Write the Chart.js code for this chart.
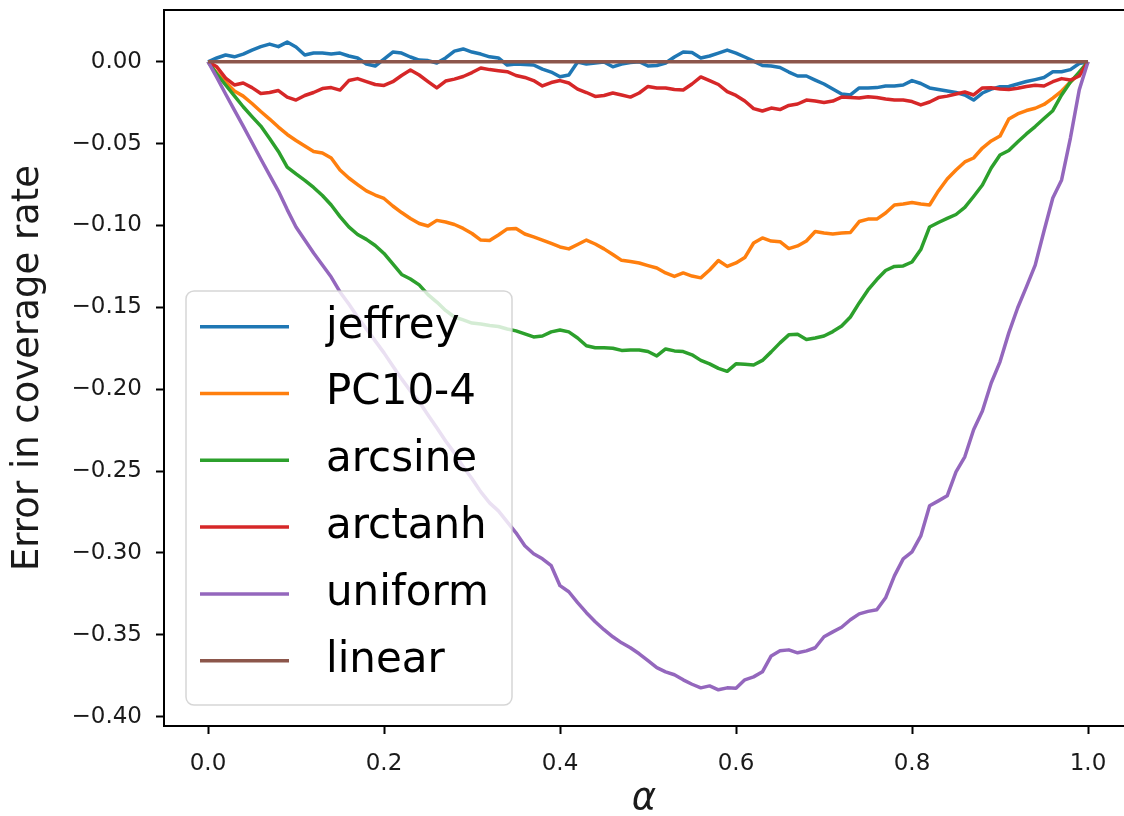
<!DOCTYPE html>
<html><head><meta charset="utf-8">
<script src="https://cdn.jsdelivr.net/npm/chart.js@4"></script>
<style>html,body{margin:0;padding:0;background:#fff;overflow:hidden}canvas{display:block}</style>
</head><body>
<canvas id="c" width="1124" height="816"></canvas>
<script>
const alpha = [0,0.01,0.02,0.03,0.04,0.05,0.06,0.07,0.08,0.09,
0.10,0.11,0.12,0.13,0.14,0.15,0.16,0.17,0.18,0.19,
0.20,0.21,0.22,0.23,0.24,0.25,0.26,0.27,0.28,0.29,
0.30,0.31,0.32,0.33,0.34,0.35,0.36,0.37,0.38,0.39,
0.40,0.41,0.42,0.43,0.44,0.45,0.46,0.47,0.48,0.49,
0.50,0.51,0.52,0.53,0.54,0.55,0.56,0.57,0.58,0.59,
0.60,0.61,0.62,0.63,0.64,0.65,0.66,0.67,0.68,0.69,
0.70,0.71,0.72,0.73,0.74,0.75,0.76,0.77,0.78,0.79,
0.80,0.81,0.82,0.83,0.84,0.85,0.86,0.87,0.88,0.89,
0.90,0.91,0.92,0.93,0.94,0.95,0.96,0.97,0.98,0.99,
1.00];
const jeffrey = [0,0.0023,0.0041,0.003,0.0047,0.0071,0.0092,0.0108,0.0092,0.012,
0.009,0.0041,0.0053,0.0053,0.0047,0.0053,0.0035,0.0023,-0.0014,-0.0026,
0.0016,0.0059,0.0053,0.0029,0.001,0.0007,-0.0008,0.0023,0.0065,0.0078,
0.0059,0.0047,0.003,0.0023,-0.002,-0.0014,-0.0017,-0.002,-0.0045,-0.0063,
-0.0092,-0.0081,-0.0002,-0.0014,-0.0008,-0.0002,-0.0031,-0.0014,-0.0005,0,
-0.0026,-0.0023,-0.0008,0.0029,0.0059,0.0056,0.0023,0.0035,0.0053,0.0071,
0.0053,0.0029,0.0004,-0.0023,-0.0026,-0.0035,-0.0063,-0.0087,-0.0087,-0.0112,
-0.0136,-0.0167,-0.0197,-0.0203,-0.016,-0.016,-0.0158,-0.0148,-0.0148,-0.0142,
-0.0115,-0.0133,-0.016,-0.017,-0.0179,-0.0188,-0.0203,-0.0234,-0.0191,-0.0167,
-0.0153,-0.0151,-0.0136,-0.0121,-0.0109,-0.0096,-0.0061,-0.0061,-0.0048,-0.0011,
0];
const pc104 = [0,-0.0069,-0.0124,-0.0179,-0.021,-0.0255,-0.0304,-0.035,-0.0399,-0.0444,
-0.0481,-0.0515,-0.0548,-0.0557,-0.0588,-0.0661,-0.071,-0.075,-0.0789,-0.0814,
-0.0835,-0.0881,-0.0921,-0.0957,-0.0988,-0.1003,-0.0969,-0.0979,-0.0994,-0.1018,
-0.1049,-0.1089,-0.1092,-0.1058,-0.1021,-0.1018,-0.1052,-0.107,-0.1089,-0.111,
-0.1131,-0.1143,-0.1116,-0.1089,-0.1113,-0.1143,-0.1177,-0.1213,-0.122,-0.1229,
-0.1245,-0.126,-0.129,-0.1311,-0.129,-0.1309,-0.132,-0.1272,-0.1214,-0.125,
-0.1229,-0.1196,-0.1107,-0.1076,-0.1095,-0.1099,-0.1141,-0.1125,-0.1095,-0.1037,
-0.1046,-0.1052,-0.1046,-0.1043,-0.0976,-0.0961,-0.0961,-0.0924,-0.0875,-0.0869,
-0.086,-0.0869,-0.0875,-0.0789,-0.0716,-0.0661,-0.0612,-0.0588,-0.0527,-0.0484,
-0.0454,-0.035,-0.0319,-0.0298,-0.0284,-0.0261,-0.0222,-0.0179,-0.0124,-0.0075,
0];
const arcsine = [0,-0.0075,-0.0142,-0.0209,-0.0275,-0.0335,-0.0393,-0.0469,-0.0548,-0.0643,
-0.0685,-0.0725,-0.0768,-0.0817,-0.0875,-0.0946,-0.1009,-0.1055,-0.1085,-0.1122,
-0.1171,-0.1235,-0.1299,-0.1327,-0.1363,-0.1422,-0.1468,-0.1519,-0.1559,-0.1577,
-0.1596,-0.1602,-0.1611,-0.1617,-0.1632,-0.1644,-0.1662,-0.1681,-0.1675,-0.165,
-0.1638,-0.165,-0.1687,-0.1735,-0.1747,-0.1747,-0.175,-0.1763,-0.176,-0.176,
-0.177,-0.1797,-0.1754,-0.1766,-0.177,-0.179,-0.1824,-0.1845,-0.1873,-0.1891,
-0.1845,-0.1848,-0.1852,-0.1824,-0.1772,-0.1717,-0.1668,-0.1665,-0.1696,-0.1687,
-0.1675,-0.1648,-0.1614,-0.1559,-0.1473,-0.1394,-0.133,-0.1275,-0.125,-0.1247,
-0.1223,-0.1147,-0.1009,-0.0982,-0.0957,-0.0933,-0.089,-0.0823,-0.0753,-0.0649,
-0.057,-0.0542,-0.049,-0.0441,-0.0396,-0.0347,-0.0299,-0.0203,-0.0124,-0.0063,
0];
const arctanh = [0,-0.0031,-0.01,-0.0142,-0.013,-0.0158,-0.0194,-0.0188,-0.0176,-0.0216,
-0.0234,-0.0206,-0.0188,-0.0164,-0.0158,-0.0173,-0.0115,-0.0103,-0.0121,-0.0139,
-0.0145,-0.0122,-0.0084,-0.0051,-0.0081,-0.0121,-0.016,-0.0118,-0.0106,-0.009,
-0.0066,-0.0038,-0.0048,-0.0055,-0.0061,-0.0084,-0.0096,-0.0115,-0.0148,-0.0127,
-0.0115,-0.013,-0.0167,-0.0188,-0.0212,-0.0206,-0.0191,-0.0203,-0.0216,-0.0191,
-0.0151,-0.016,-0.016,-0.017,-0.0173,-0.0136,-0.0093,-0.0115,-0.0139,-0.0183,
-0.0206,-0.024,-0.0286,-0.0301,-0.0283,-0.0292,-0.0267,-0.0258,-0.0234,-0.024,
-0.0249,-0.024,-0.0216,-0.0219,-0.0222,-0.0214,-0.0219,-0.0228,-0.0234,-0.0234,
-0.0243,-0.0264,-0.0246,-0.0219,-0.021,-0.0197,-0.0185,-0.0203,-0.016,-0.0159,
-0.0167,-0.017,-0.0162,-0.0151,-0.0143,-0.0148,-0.0122,-0.0103,-0.0112,-0.0087,
0];
const uniform = [0,-0.0096,-0.0197,-0.0295,-0.0393,-0.0493,-0.0594,-0.0692,-0.079,-0.0903,
-0.1009,-0.1089,-0.1168,-0.1241,-0.1315,-0.1406,-0.148,-0.1559,-0.1632,-0.1705,
-0.1778,-0.1858,-0.1937,-0.2011,-0.2077,-0.2157,-0.2236,-0.2316,-0.2389,-0.2474,
-0.2547,-0.2627,-0.2694,-0.2743,-0.281,-0.2877,-0.2956,-0.3005,-0.3036,-0.3078,
-0.32,-0.3237,-0.3304,-0.3365,-0.342,-0.3469,-0.3512,-0.3549,-0.3579,-0.3616,
-0.3658,-0.3701,-0.3726,-0.3744,-0.3775,-0.3802,-0.3824,-0.3812,-0.3836,-0.3824,
-0.3827,-0.3775,-0.3757,-0.3726,-0.3629,-0.3598,-0.3592,-0.361,-0.3598,-0.3579,
-0.3512,-0.3482,-0.3454,-0.3408,-0.3372,-0.3357,-0.3347,-0.3274,-0.314,-0.3036,
-0.2993,-0.2896,-0.2712,-0.2682,-0.2651,-0.2505,-0.2413,-0.2248,-0.2133,-0.1962,
-0.1833,-0.1656,-0.1504,-0.1375,-0.1242,-0.1034,-0.0832,-0.0722,-0.0466,-0.0173,
0];
const linearAlpha = [0, 1];
const linear = [0, 0];

const seriesNames = ['jeffrey','PC10-4','arcsine','arctanh','uniform','linear'];
const seriesColors = ['#1f77b4','#ff7f0e','#2ca02c','#d62728','#9467bd','#8c564b'];
const xTicks = [0,0.2,0.4,0.6,0.8,1.0];
const yTicks = [0,-0.05,-0.10,-0.15,-0.20,-0.25,-0.30,-0.35,-0.40];
const xTitle = 'α';
const yTitle = 'Error in coverage rate';

const FONT = '"DejaVu Sans", sans-serif';
const seriesValues = [jeffrey, pc104, arcsine, arctanh, uniform, linear];
const seriesX = [alpha, alpha, alpha, alpha, alpha, linearAlpha];

const datasets = seriesValues.map((vals, i) => ({
  label: seriesNames[i],
  data: seriesX[i].map((a, j) => ({x: a, y: vals[j]})),
  borderColor: seriesColors[i],
  backgroundColor: seriesColors[i],
  borderWidth: 3.5,
  pointRadius: 0,
  tension: 0,
  fill: false,
  borderJoinStyle: 'round',
  order: seriesValues.length - i
}));

const fmtY = v => (Math.abs(v) < 1e-9 ? '0.00' : (v < 0 ? '\u2212' : '') + Math.abs(v).toFixed(2));

const framePlugin = {
  id: 'frame',
  afterDatasetsDraw(chart) {
    const ctx = chart.ctx;
    const bx = 186, by = 291, bw = 326, bh = 414, r = 8;
    ctx.save();
    ctx.beginPath();
    ctx.roundRect(bx, by, bw, bh, r);
    ctx.fillStyle = 'rgba(255,255,255,0.8)';
    ctx.fill();
    ctx.strokeStyle = 'rgba(204,204,204,0.8)';
    ctx.lineWidth = 1.5;
    ctx.stroke();
    chart.data.datasets.forEach((ds, i) => {
      const y = 326.7 + i * 66.8;
      ctx.beginPath();
      ctx.moveTo(200, y);
      ctx.lineTo(289, y);
      ctx.strokeStyle = ds.borderColor;
      ctx.lineWidth = 3.5;
      ctx.stroke();
      ctx.fillStyle = '#000';
      ctx.font = '42px ' + FONT;
      ctx.textAlign = 'left';
      ctx.textBaseline = 'middle';
      ctx.fillText(ds.label, 326, y);
    });
    ctx.restore();
  },
  afterDraw(chart) {
    const {ctx, chartArea} = chart;
    ctx.save();
    ctx.strokeStyle = '#000';
    ctx.lineWidth = 2;
    ctx.beginPath();
    ctx.moveTo(chartArea.left - 1, chartArea.top);
    ctx.lineTo(chartArea.right, chartArea.top);
    ctx.stroke();
    ctx.restore();
  }
};

new Chart(document.getElementById('c'), {
  type: 'line',
  data: { datasets },
  plugins: [framePlugin],
  options: {
    responsive: false,
    animation: false,
    events: [],
    devicePixelRatio: 1,
    layout: { padding: { top: 10, left: 0, right: 0, bottom: 0 } },
    plugins: { legend: { display: false }, tooltip: { enabled: false } },
    scales: {
      x: {
        type: 'linear',
        min: -0.05,
        max: 1.0409,
        afterFit(s) { s.height = 90; s.paddingLeft = 0; s.paddingRight = 0; s.paddingTop = 0; s.paddingBottom = 0; },
        afterBuildTicks(s) { s.ticks = xTicks.map(v => ({value: v})); },
        grid: { drawOnChartArea: false, drawTicks: true, tickLength: 8, tickWidth: 2, tickColor: '#000' },
        border: { display: true, width: 2, color: '#000' },
        ticks: { autoSkip: false, maxRotation: 0, padding: 16, color: '#1a1a1a', font: { family: FONT, size: 23 },
          callback: v => v.toFixed(1) },
        title: { display: true, text: xTitle, color: '#1a1a1a', padding: { top: 0, bottom: 0 },
          font: { family: FONT, size: 37, style: 'italic', lineHeight: 0.9 } }
      },
      y: {
        type: 'linear',
        min: -0.4057,
        max: 0.0316,
        afterFit(s) { s.width = 164; s.paddingTop = 0; s.paddingBottom = 0; s.paddingLeft = 0; s.paddingRight = 0; },
        afterBuildTicks(s) { s.ticks = yTicks.map(v => ({value: v})); },
        grid: { drawOnChartArea: false, drawTicks: true, tickLength: 8, tickWidth: 2, tickColor: '#000' },
        border: { display: true, width: 2, color: '#000' },
        ticks: { autoSkip: false, padding: 14, color: '#1a1a1a', font: { family: FONT, size: 23 },
          callback: v => fmtY(v) },
        title: { display: true, text: yTitle, color: '#1a1a1a', padding: { top: 6, bottom: 0 },
          font: { family: FONT, size: 37 } }
      }
    }
  }
});
</script>
</body></html>
